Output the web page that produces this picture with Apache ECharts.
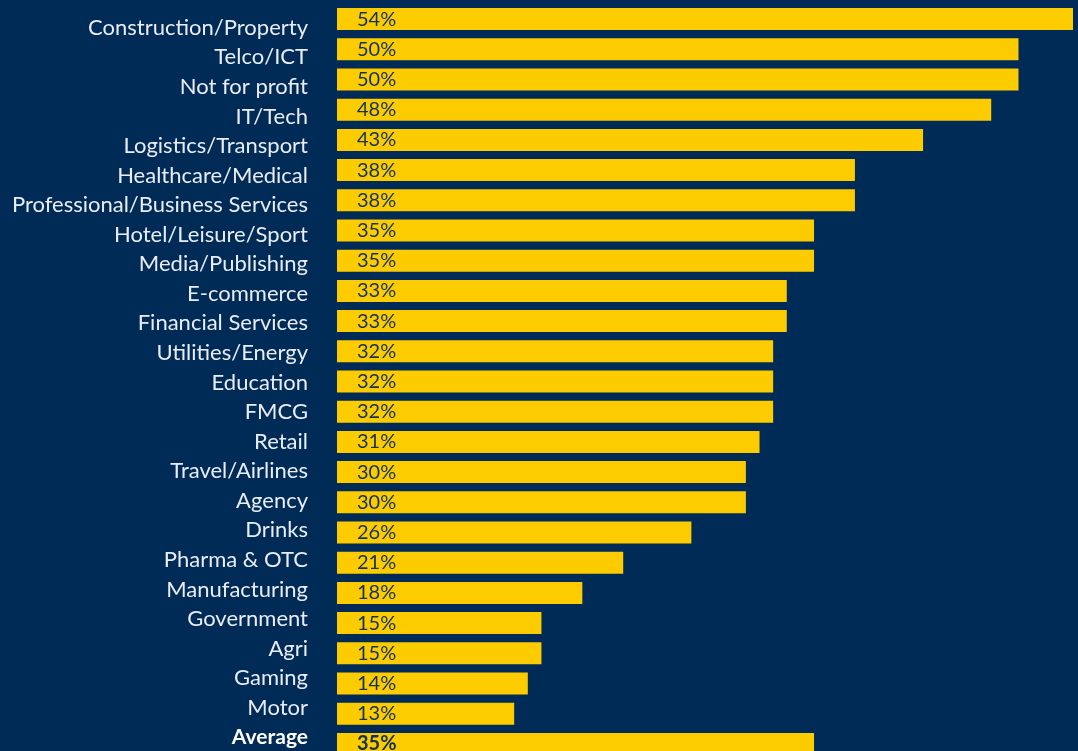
<!DOCTYPE html>
<html>
<head>
<meta charset="utf-8">
<script src="https://cdn.jsdelivr.net/npm/echarts@6/dist/echarts.min.js"></script>
<style>
html,body{margin:0;padding:0;background:#012b57;}
#chart{width:1078px;height:751px;}
</style>
</head>
<body>
<div id="chart"></div>
<script type="text/javascript">
var sectors = ['Construction/Property','Telco/ICT','Not for profit','IT/Tech','Logistics/Transport',
  'Healthcare/Medical','Professional/Business Services','Hotel/Leisure/Sport','Media/Publishing',
  'E-commerce','Financial Services','Utilities/Energy','Education','FMCG','Retail','Travel/Airlines',
  'Agency','Drinks','Pharma & OTC','Manufacturing','Government','Agri','Gaming','Motor','Average'];
var shares = [54,50,50,48,43,38,38,35,35,33,33,32,32,32,31,30,30,26,21,18,15,15,14,13,35];

var chart = echarts.init(document.getElementById('chart'));
var barData = shares.map(function(v, i){
  var last = i === shares.length - 1;
  return {value: v, label: {fontWeight: last ? 'bold' : 'normal'}};
});
chart.setOption({
  backgroundColor: '#012b57',
  animation: false,
  grid: [
    {left: 337, right: 5, top: 4, height: 755, outerBoundsMode: 'none'},   // bars, last one runs off the bottom
    {left: 337, right: 5, top: 13, height: 739, outerBoundsMode: 'none'}   // sector names (slightly tighter spacing)
  ],
  xAxis: [
    {type: 'value', min: 0, max: 54, show: false, gridIndex: 0},
    {type: 'value', min: 0, max: 54, show: false, gridIndex: 1}
  ],
  yAxis: [
    {type: 'category', inverse: true, data: sectors, gridIndex: 0, show: false},
    {
      type: 'category',
      inverse: true,
      data: sectors,
      gridIndex: 1,
      axisLine: {show: false},
      axisTick: {show: false},
      axisLabel: {
        margin: 29,
        color: '#e9edf3',
        fontFamily: 'Lato',
        fontSize: 22,
        formatter: function(v){ return v === 'Average' ? '{b|' + v + '}' : v; },
        rich: {b: {fontWeight: 'bold', fontSize: 21, color: '#ffffff', fontFamily: 'Lato'}}
      }
    }
  ],
  series: [{
    type: 'bar',
    data: barData,
    barWidth: 22,
    itemStyle: {color: '#fccc00'},
    label: {
      show: true,
      position: 'insideLeft',
      distance: 20,
      color: '#13325a',
      fontFamily: 'Lato',
      fontSize: 20,
      padding: [3, 0, 0, 0],
      formatter: '{c}%'
    }
  }]
});
</script>
</body>
</html>
